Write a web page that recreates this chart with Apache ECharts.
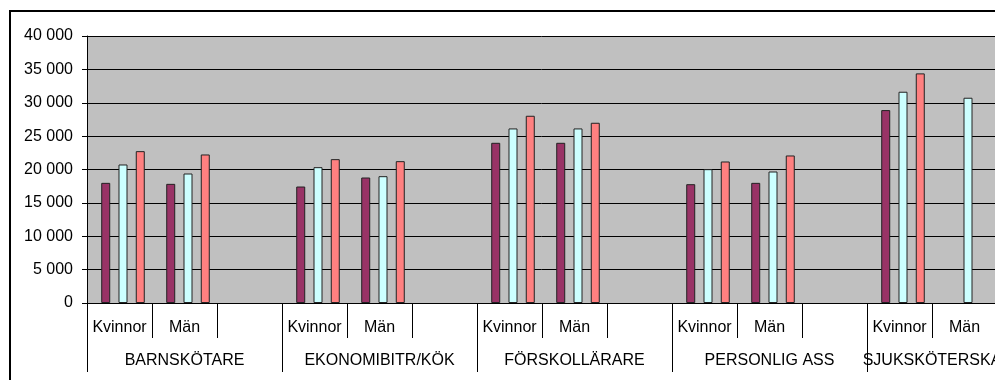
<!DOCTYPE html>
<html><head><meta charset="utf-8">
<script src="https://cdn.jsdelivr.net/npm/echarts@6/dist/echarts.min.js"></script>
<style>html,body{margin:0;padding:0;background:#fff;}#c{width:995px;height:380px;}</style>
</head><body><div id="c"></div>
<script>
const subCategories = ['Kvinnor','Män','', 'Kvinnor','Män','', 'Kvinnor','Män','', 'Kvinnor','Män','', 'Kvinnor','Män'];
const groupNames = ['BARNSKÖTARE','EKONOMIBITR/KÖK','FÖRSKOLLÄRARE','PERSONLIG ASS','SJUKSKÖTERSKA'];
const groupSizes = [3,3,3,3,2];
const series1 = [18000,17850,null, 17450,18800,null, 24000,24000,null, 17800,18000,null, 28900,null];
const series2 = [20750,19400,null, 20350,19000,null, 26150,26150,null, 20050,19700,null, 31650,30750];
const series3 = [22750,22250,null, 21550,21250,null, 28050,27000,null, 21200,22100,null, 34400,null];
const yTicks = [0,5000,10000,15000,20000,25000,30000,35000,40000];

// group axis built on half-category points
const nHalf = subCategories.length * 2;
const groupAxisData = new Array(nHalf + 1).fill('');
const groupStarts = [];
let s = 0;
groupSizes.forEach((n, i) => { groupStarts.push(s); groupAxisData[s + n] = groupNames[i]; s += 2 * n; });
groupStarts.push(s);

const font = "'Liberation Sans', Arial, sans-serif";
const FS = 16;
const G = {left: 87, top: 36, width: 910, height: 267, containLabel: false, outerBoundsMode: 'none'};
const chart = echarts.init(document.getElementById('c'));
chart.setOption({
  animation: false,
  textStyle: {fontFamily: font},
  graphic: [{type: 'rect', shape: {x: 10, y: 11, width: 1200, height: 500}, style: {fill: 'none', stroke: '#000', lineWidth: 2}, z: 100}],
  grid: [
    Object.assign({show: true, backgroundColor: '#C0C0C0', borderWidth: 0}, G),
    Object.assign({}, G, {left: G.left + 3.5})
  ],
  xAxis: [
    {type: 'category', gridIndex: 0, data: subCategories, position: 'bottom', offset: 0,
     axisLine: {show: true, lineStyle: {color: '#000', width: 1}},
     axisTick: {show: true, length: 35, interval: 0, lineStyle: {color: '#000'}},
     axisLabel: {interval: 0, margin: 17, color: '#000', fontSize: FS, fontFamily: font}},
    {type: 'category', gridIndex: 0, data: groupAxisData, boundaryGap: false, position: 'bottom', offset: 0,
     axisLine: {show: false},
     axisTick: {show: true, length: 69, interval: (i) => groupStarts.includes(i), lineStyle: {color: '#000'}},
     axisLabel: {interval: 0, margin: 50, color: '#000', fontSize: FS, fontFamily: font}},
    {type: 'category', gridIndex: 1, data: subCategories, show: false}
  ],
  yAxis: [
    {type: 'value', gridIndex: 0, min: yTicks[0], max: yTicks[yTicks.length-1], interval: yTicks[1]-yTicks[0],
     axisLine: {show: true, lineStyle: {color: '#000', width: 1}},
     axisTick: {show: true, length: 5, lineStyle: {color: '#000'}},
     splitLine: {show: true, lineStyle: {color: '#000', width: 1}},
     axisLabel: {margin: 14, color: '#000', fontSize: FS, fontFamily: font,
       formatter: (v) => String(v).replace(/\B(?=(\d{3})+(?!\d))/g, ' ')}},
    {type: 'value', gridIndex: 1, min: yTicks[0], max: yTicks[yTicks.length-1], show: false, splitLine: {show: false}}
  ],
  series: [
    {type: 'bar', name: 'Serie 1', xAxisIndex: 2, yAxisIndex: 1, data: series1, barWidth: 9, barGap: '92%',
     itemStyle: {color: '#993366', borderColor: '#222', borderWidth: 1}},
    {type: 'bar', name: 'Serie 2', xAxisIndex: 2, yAxisIndex: 1, data: series2, barWidth: 9, barGap: '92%',
     itemStyle: {color: '#CCFFFF', borderColor: '#222', borderWidth: 1}},
    {type: 'bar', name: 'Serie 3', xAxisIndex: 2, yAxisIndex: 1, data: series3, barWidth: 9, barGap: '92%',
     itemStyle: {color: '#FF8080', borderColor: '#222', borderWidth: 1}}
  ]
});
</script></body></html>
